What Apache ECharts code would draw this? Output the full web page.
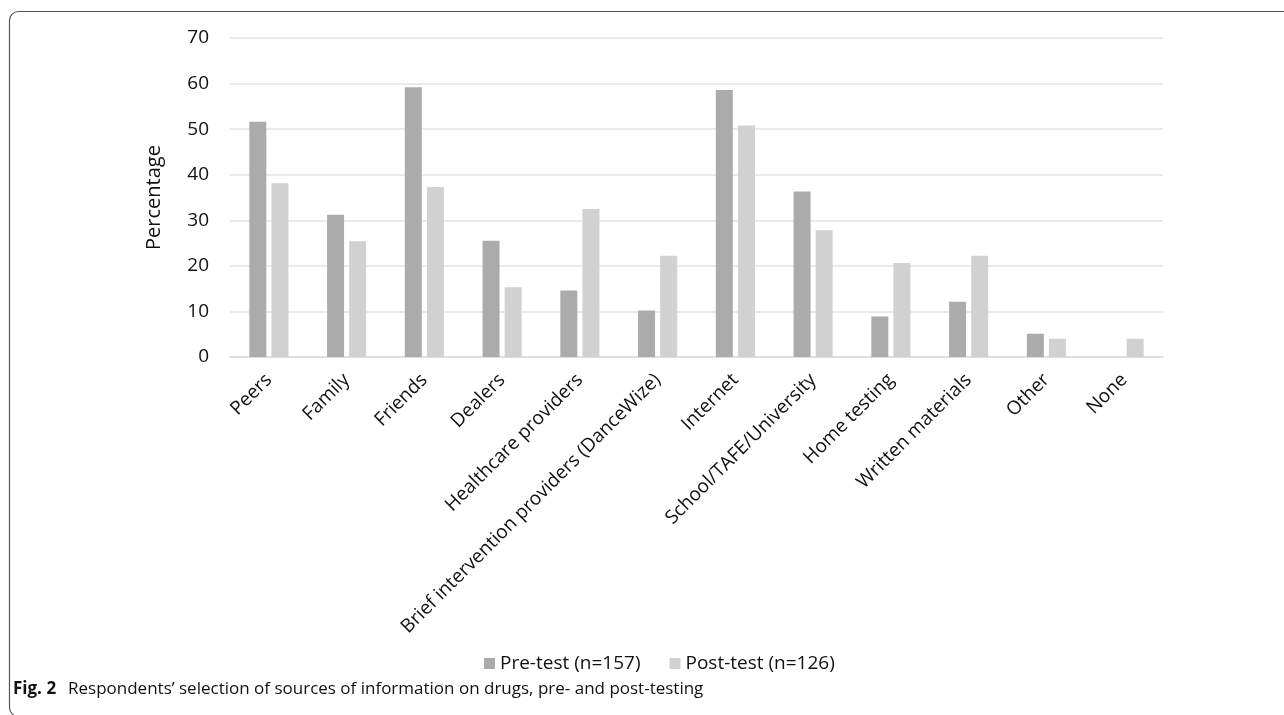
<!DOCTYPE html>
<html>
<head>
<meta charset="utf-8">
<script src="https://cdn.jsdelivr.net/npm/echarts@6/dist/echarts.min.js"></script>
<style>
html,body{margin:0;padding:0;background:#fff;}
#chart{width:1284px;height:715px;}
</style>
</head>
<body>
<div id="chart"></div>
<script>
const categories = ['Peers','Family','Friends','Dealers','Healthcare providers','Brief intervention providers (DanceWize)','Internet','School/TAFE/University','Home testing','Written materials','Other','None'];
const preTest = [51.6, 31.2, 59.2, 25.5, 14.6, 10.2, 58.6, 36.3, 8.9, 12.1, 5.1, 0];
const postTest = [38.1, 25.4, 37.3, 15.3, 32.5, 22.2, 50.8, 27.8, 20.6, 22.2, 4.0, 4.0];
const seriesNames = ['Pre-test (n=157)', 'Post-test (n=126)'];
const captionBold = 'Fig. 2';
const captionText = 'Respondents\u2019 selection of sources of information on drugs, pre- and post-testing';

const font = '"Open Sans", "Liberation Sans", sans-serif';
const chart = echarts.init(document.getElementById('chart'));
chart.setOption({
  animation: false,
  backgroundColor: '#fff',
  grid: { left: 230, right: 121, top: 38, bottom: 358, containLabel: false },
  legend: {
    data: seriesNames,
    bottom: 37,
    left: 479,
    itemWidth: 11, itemHeight: 11, itemGap: 29,
    icon: 'rect',
    textStyle: { fontFamily: font, fontSize: 19, color: '#111' }
  },
  xAxis: {
    type: 'category',
    data: categories,
    axisLine: { show: true, lineStyle: { color: '#dcdcdc', width: 1.5 } },
    axisTick: { show: false },
    axisLabel: { interval: 0, rotate: 45, margin: 20, fontFamily: font, fontSize: 19, color: '#111' }
  },
  yAxis: {
    type: 'value',
    min: 0, max: 70, interval: 10,
    name: 'Percentage',
    nameLocation: 'middle',
    nameGap: 66,
    nameRotate: 90,
    nameTextStyle: { fontFamily: font, fontSize: 20, color: '#111' },
    axisLine: { show: false },
    axisTick: { show: false },
    axisLabel: { margin: 21, fontFamily: font, fontSize: 19, color: '#111' },
    splitLine: { lineStyle: { color: '#e3e3e3', width: 1.5 } }
  },
  series: [
    { name: seriesNames[0], type: 'bar', data: preTest, barWidth: 17, barGap: '30%',
      itemStyle: { color: '#ababab' } },
    { name: seriesNames[1], type: 'bar', data: postTest, barWidth: 17, barGap: '30%',
      itemStyle: { color: '#d0d1d0' } }
  ],
  graphic: [
    { type: 'rect', silent: true, z: -1,
      shape: { x: 9.5, y: 11.5, width: 1400, height: 705, r: 9 },
      style: { fill: 'none', stroke: '#555', lineWidth: 1.2 } },
    { type: 'text', left: 13, top: 681,
      style: { text: captionBold, font: 'bold 17px ' + font, fill: '#111' } },
    { type: 'text', left: 68, top: 681,
      style: { text: captionText, font: '17px ' + font, fill: '#111' } }
  ]
});
</script>
</body>
</html>
